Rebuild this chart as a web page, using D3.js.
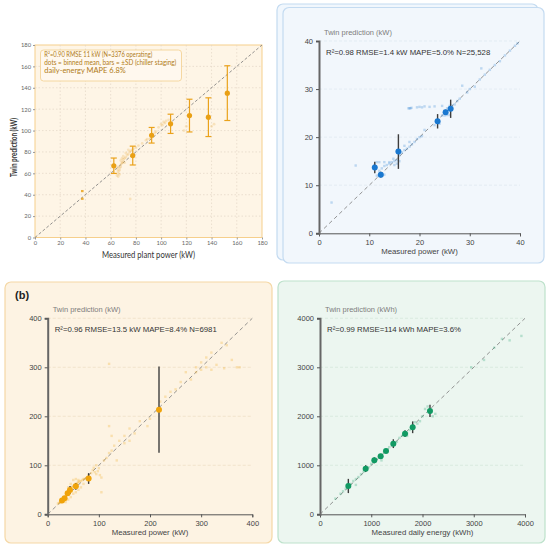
<!DOCTYPE html>
<html>
<head>
<meta charset="utf-8">
<script src="https://cdn.jsdelivr.net/npm/d3@7"></script>
<style>
  body { margin: 0; background: #fff; }
  svg { display: block; }
</style>
</head>
<body>
<svg width="550" height="548"></svg>
<script>
// ---- (a) top-left : plant power, binned means ± SD
const plantTicks = [0, 20, 40, 60, 80, 100, 120, 140, 160, 180];
const plantBinX = [62.5, 77.5, 92.5, 107.5, 122.5, 137.5, 152.5];
const plantBinY = [67.1, 76.6, 95.6, 106.3, 114.0, 112.5, 135.0];
const plantBinSD = [7.2, 8.8, 7.3, 9.0, 15.3, 18.1, 25.6];
const plantLowX = [37.5, 37.5];
const plantLowY = [43.4, 36.2];
const plantScatter = [[65,58],[66,60],[66,62],[67,63],[67,65],[68,66],[68,68],[69,70],[70,71],[70,73],[71,74],[72,75],[73,77],[74,78],[75,80],[76,81],[77,82],[78,83],[68,72],[70,76],[72,79],[74,82],[69,74],[66,57],[67,59],[80,84],[85,88],[88,91],[89,92],[91,92],[92,93],[95,98],[98,103],[100,106],[102,108],[104,109],[106,110],[103,107],[101,105],[96,99],[82,86],[120,104],[118,100],[140,104],[142,106],[75.5,36],[69,69.5],[71,70],[65,64],[66,66]];
const plantStats = ["R\u00b2=0.90   RMSE 11 kW (N=3376 operating)", "dots = binned mean, bars = \u00b1SD (chiller staging)", "daily-energy MAPE 6.8%"];

// ---- top-right : chiller power
const chillerTicks = [0, 10, 20, 30, 40];
const chillerBinX = [11.1, 12.3, 15.8, 23.6, 25.2, 26.2];
const chillerBinY = [13.7, 12.2, 17.0, 23.3, 25.2, 25.9];
const chillerBinSD = [1.2, 0.6, 3.6, 1.5, 0.5, 1.9];
const chillerScatter = [[17.8,26],[18,26],[18.2,26],[18.4,26.1],[19.5,26.2],[20,26.3],[20.5,26.2],[21,26.4],[22,26.3],[23,26.4],[24.5,26.5],[12,13],[12.5,13.5],[13,14],[13.5,14.2],[14,14.5],[14.5,14.8],[15,15],[15.5,15.2],[16,16.2],[16.5,16.8],[17,17.3],[17.5,17.6],[18,18],[18.5,18.5],[19,19],[19.5,19.6],[20,20],[20.5,20.2],[21,21.5],[16,15],[15,14.2],[14,14.8],[13,14.8],[12,14.8],[11.5,14.8],[11,14.2],[11.5,12],[12,11.9],[12.5,12],[13,12.2],[17,18.2],[18,19],[14.8,15.5],[15.5,14.5],[23,22.5],[24,22.8],[24.5,24.5],[25,24.5],[25.5,24.6],[26,24.6],[25,25.5],[25.5,26],[26,26.5],[26.5,26.6],[27,26.8],[27.5,27.5],[28,28],[28.5,30.7],[29.5,29.3],[30,30],[31,30.5],[32,32],[32.3,34.3],[33,33],[34,34],[35,35],[36,35.8],[37,37],[38,38],[39,39],[39.5,39.5],[2.5,6.4],[7.3,14.1]];
const chillerStats = "R\u00b2=0.98 RMSE=1.4 kW MAPE=5.0% N=25,528";

// ---- (b) bottom-left : building power
const powerTicks = [0, 100, 200, 300, 400];
const powerBinX = [28, 33, 39, 43.6, 55, 80, 217.6];
const powerBinY = [28, 33, 42.8, 49.6, 57, 73, 213.5];
const powerBinSD = [3, 3, 5, 8, 7, 11, 88];
const powerScatter = [[20,22],[22,23],[24,24],[25,26],[26,25],[28,27],[29,29],[30,30],[31,32],[32,31],[33,34],[34,35],[35,36],[36,38],[37,40],[38,41],[39,44],[40,46],[41,48],[42,50],[44,52],[45,54],[46,55],[48,56],[50,58],[52,60],[54,62],[56,62],[58,64],[60,66],[62,67],[65,68],[68,70],[70,72],[72,72],[75,74],[78,76],[80,80],[85,84],[88,90],[90,95],[92,86],[95,82],[98,88],[100,94],[102,80],[105,75],[95,100],[105,45],[60,70],[55,72],[50,70],[45,62],[40,55],[35,25],[40,30],[45,35],[50,42],[55,45],[60,50],[65,55],[70,62],[110,110],[115,115],[120,125],[125,130],[130,140],[140,150],[150,160],[160,175],[120,180],[125,160],[120,307],[135,110],[180,190],[200,195],[220,230],[230,240],[240,250],[250,255],[260,270],[270,290],[290,300],[300,310],[310,320],[320,330],[340,350],[350,345],[330,305],[320,295],[300,295],[310,300],[360,315],[370,300],[375,300],[345,298],[290,290],[280,275],[195,180],[170,165],[160,150],[150,145]];
const powerStats = "R\u00b2=0.96 RMSE=13.5 kW MAPE=8.4% N=6981";

// ---- bottom-right : daily energy
const energyTicks = [0, 1000, 2000, 3000, 4000];
const energyBinX = [553, 891, 1060, 1184, 1288, 1431, 1659, 1808, 2146];
const energyBinY = [578, 932, 1102, 1184, 1293, 1442, 1646, 1776, 2109];
const energyBinSD = [145, 70, 60, 30, 30, 90, 70, 120, 125];
const energyScatter = [[300,320],[400,420],[450,470],[500,520],[550,560],[600,620],[650,680],[700,720],[750,760],[800,820],[850,870],[900,920],[950,960],[1000,1030],[1050,1080],[1100,1130],[1150,1170],[1200,1220],[1250,1270],[1300,1320],[1350,1370],[1400,1420],[1450,1470],[1500,1480],[1550,1560],[1600,1600],[1650,1680],[1700,1650],[1750,1720],[1800,1750],[1850,1880],[1900,1850],[1950,1900],[2000,2000],[2050,2150],[2100,2200],[2200,2000],[2250,2050],[2950,3000],[3200,3150],[3400,3400],[3550,3580],[3700,3550],[3930,3640],[700,600],[1200,1100],[1700,1600]];
const energyStats = "R\u00b2=0.99 RMSE=114 kWh MAPE=3.6%";

var svg = d3.select("svg");

// ================= panel (a) =================
(function () {
  var x = d3.scaleLinear().domain([0, 180]).range([35, 262]);
  var y = d3.scaleLinear().domain([0, 180]).range([237.5, 45]);
  var font = "Lato, 'Open Sans', sans-serif";
  var g = svg.append("g");

  g.append("rect").attr("x", 35).attr("y", 45).attr("width", 227).attr("height", 192.5)
    .attr("fill", "#fef5e6").attr("stroke", "#f6cf8c").attr("stroke-width", 1);

  g.selectAll(".gx").data(plantTicks.slice(1, -1)).enter().append("line")
    .attr("x1", d => x(d)).attr("x2", d => x(d)).attr("y1", 45).attr("y2", 237.5)
    .attr("stroke", "#e2d6c6").attr("stroke-dasharray", "1.5,2").attr("stroke-width", 0.7);
  g.selectAll(".gy").data(plantTicks.slice(1, -1)).enter().append("line")
    .attr("y1", d => y(d)).attr("y2", d => y(d)).attr("x1", 35).attr("x2", 262)
    .attr("stroke", "#e2d6c6").attr("stroke-dasharray", "1.5,2").attr("stroke-width", 0.7);

  var xa = g.append("g").attr("transform", "translate(0,237.5)")
    .call(d3.axisBottom(x).tickValues(plantTicks).tickSize(2).tickPadding(1.5));
  var ya = g.append("g").attr("transform", "translate(35,0)")
    .call(d3.axisLeft(y).tickValues(plantTicks).tickSize(2).tickPadding(2));
  [xa, ya].forEach(a => {
    a.select(".domain").remove();
    a.selectAll("line").attr("stroke", "#999");
    a.selectAll("text").attr("fill", "#666").style("font-size", "5.8px").style("font-family", font);
  });

  g.append("line").attr("x1", x(0)).attr("y1", y(0)).attr("x2", x(180)).attr("y2", y(180))
    .attr("stroke", "#777").attr("stroke-dasharray", "3,2").attr("stroke-width", 0.8);

  g.selectAll(".sc").data(plantScatter).enter().append("circle")
    .attr("cx", d => x(d[0])).attr("cy", d => y(d[1])).attr("r", 1.4)
    .attr("fill", "#eab04a").attr("opacity", 0.28);

  g.selectAll(".low").data(plantLowX).enter().append("rect")
    .attr("x", d => x(d) - 1.3).attr("y", (d, i) => y(plantLowY[i]) - 1.1)
    .attr("width", 2.6).attr("height", 2.2).attr("fill", "#e9a21a").attr("opacity", 0.85);

  var bins = plantBinX.map((d, i) => ({ x: d, y: plantBinY[i], sd: plantBinSD[i] }));
  var eb = g.selectAll(".eb").data(bins).enter().append("g");
  eb.append("line").attr("x1", d => x(d.x)).attr("x2", d => x(d.x))
    .attr("y1", d => y(d.y + d.sd)).attr("y2", d => y(d.y - d.sd))
    .attr("stroke", "#eaa21c").attr("stroke-width", 1.2);
  [1, -1].forEach(s => {
    eb.append("line").attr("x1", d => x(d.x) - 3).attr("x2", d => x(d.x) + 3)
      .attr("y1", d => y(d.y + s * d.sd)).attr("y2", d => y(d.y + s * d.sd))
      .attr("stroke", "#eaa21c").attr("stroke-width", 1.2);
  });
  eb.append("circle").attr("cx", d => x(d.x)).attr("cy", d => y(d.y)).attr("r", 2.6)
    .attr("fill", "#e9a015");

  // stats box: narrow face in the original, so squeeze each line to its width
  var lineLen = [108, 132, 81.5];
  g.append("rect").attr("x", 40.5).attr("y", 50).attr("width", 141).attr("height", 31).attr("rx", 3)
    .attr("fill", "#fff8ee").attr("stroke", "#f2cf8e").attr("stroke-width", 0.8);
  g.selectAll(".st").data(plantStats).enter().append("text")
    .attr("x", 44.3).attr("y", (d, i) => 57 + i * 8.2)
    .attr("textLength", (d, i) => lineLen[i]).attr("lengthAdjust", "spacingAndGlyphs")
    .attr("fill", "#b07b16").style("font-size", "7px").style("font-family", font)
    .text(d => d);

  g.append("text").attr("x", 148.5).attr("y", 257.5).attr("text-anchor", "middle")
    .attr("textLength", 93).attr("lengthAdjust", "spacingAndGlyphs")
    .attr("fill", "#333").style("font-size", "8.6px").style("font-family", font)
    .text("Measured plant power (kW)");
  g.append("text").attr("transform", "translate(16.5,147.5) rotate(-90)").attr("text-anchor", "middle")
    .attr("textLength", 59).attr("lengthAdjust", "spacingAndGlyphs")
    .attr("fill", "#333").attr("font-weight", 700).style("font-size", "8.6px").style("font-family", font)
    .text("Twin prediction (kW)");
})();

// ================= card panels =================
function cardPanel(o) {
  var font = "'Liberation Sans', Arial, sans-serif";
  var g = svg.append("g");
  var x = d3.scaleLinear().domain(o.domain).range([o.px0, o.px1]);
  var y = d3.scaleLinear().domain(o.domain).range([o.py0, o.py1]);

  g.selectAll(".grid").data(o.ticks.slice(1)).enter().append("line")
    .attr("x1", o.px0).attr("x2", o.px1).attr("y1", d => y(d)).attr("y2", d => y(d))
    .attr("stroke", o.grid).attr("stroke-dasharray", "3,2").attr("stroke-width", 0.7);

  var xa = g.append("g").attr("transform", "translate(0," + o.py0 + ")")
    .call(d3.axisBottom(x).tickValues(o.ticks).tickSize(3).tickPadding(3).tickFormat(d3.format("d")));
  xa.select(".domain").attr("stroke", "#555").attr("stroke-width", 1);
  var ya = g.append("g").attr("transform", "translate(" + o.px0 + ",0)")
    .call(d3.axisLeft(y).tickValues(o.ticks).tickSize(3).tickPadding(3).tickFormat(d3.format("d")));
  ya.select(".domain").attr("stroke", "#666").attr("stroke-width", 2);
  [xa, ya].forEach(a => {
    a.selectAll(".tick line").attr("stroke", "#555");
    a.selectAll("text").attr("fill", "#444").style("font-size", "7.5px").style("font-family", font);
  });

  g.append("line").attr("x1", x(o.domain[0])).attr("y1", y(o.domain[0]))
    .attr("x2", x(o.domain[1])).attr("y2", y(o.domain[1]))
    .attr("stroke", "#7a7a7a").attr("stroke-dasharray", "4,3").attr("stroke-width", 0.8);

  g.selectAll(".sc").data(o.scatter).enter().append("rect")
    .attr("x", d => x(d[0]) - 1.2).attr("y", d => y(d[1]) - 1.2).attr("width", 2.4).attr("height", 2.4)
    .attr("fill", o.color).attr("opacity", 0.25);

  var bins = o.binX.map((d, i) => ({ x: d, y: o.binY[i], sd: o.binSD[i] }));
  g.selectAll(".eb").data(bins).enter().append("line")
    .attr("x1", d => x(d.x)).attr("x2", d => x(d.x))
    .attr("y1", d => y(d.y + d.sd)).attr("y2", d => y(d.y - d.sd))
    .attr("stroke", "#3d3d3d").attr("stroke-width", 1.4);
  g.selectAll(".bm").data(bins).enter().append("circle")
    .attr("cx", d => x(d.x)).attr("cy", d => y(d.y)).attr("r", 3)
    .attr("fill", o.color);

  g.append("text").attr("x", o.px0 + 5).attr("y", o.py1 - 6)
    .attr("fill", "#7d7d7d").style("font-size", "7.5px").style("font-family", font)
    .text(o.ytitle);
  g.append("text").attr("x", o.px0 + 7).attr("y", o.py1 + 13.5)
    .attr("fill", "#333").style("font-size", "7.8px").style("font-family", font)
    .text(o.stats);
  g.append("text").attr("x", (o.px0 + o.px1) / 2).attr("y", o.py0 + 21)
    .attr("text-anchor", "middle")
    .attr("fill", "#444").style("font-size", "7.8px").style("font-family", font)
    .text(o.xtitle);
}

// top-right cards (stacked)
svg.append("rect").attr("x", 277).attr("y", 4).attr("width", 261).attr("height", 256).attr("rx", 6)
  .attr("fill", "#f1f7fd").attr("stroke", "#c4dbf1").attr("stroke-width", 1.2);
svg.append("rect").attr("x", 283).attr("y", 7.5).attr("width", 261).attr("height", 255.5).attr("rx", 6)
  .attr("fill", "#f2f7fc").attr("stroke", "#c4dbf1").attr("stroke-width", 1.2);
cardPanel({ domain: [0, 40], ticks: chillerTicks, px0: 319, px1: 520, py0: 233.3, py1: 41,
  scatter: chillerScatter, binX: chillerBinX, binY: chillerBinY, binSD: chillerBinSD,
  color: "#1a78d0", grid: "#dde6ef", ytitle: "Twin prediction (kW)",
  stats: chillerStats, xtitle: "Measured power (kW)" });

// bottom-left card
svg.append("rect").attr("x", 5).attr("y", 282).attr("width", 267).attr("height", 261).attr("rx", 6)
  .attr("fill", "#fdf3e3").attr("stroke", "#f5d8a6").attr("stroke-width", 1.2);
svg.append("text").attr("x", 15).attr("y", 298.5).attr("font-weight", 700)
  .style("font-size", "11px").style("font-family", "'Liberation Sans', Arial, sans-serif")
  .attr("fill", "#222").text("(b)");
cardPanel({ domain: [0, 400], ticks: powerTicks, px0: 47.7, px1: 252.3, py0: 514.3, py1: 318.3,
  scatter: powerScatter, binX: powerBinX, binY: powerBinY, binSD: powerBinSD,
  color: "#f0a30a", grid: "#ecdcc2", ytitle: "Twin prediction (kW)",
  stats: powerStats, xtitle: "Measured power (kW)" });

// bottom-right card
svg.append("rect").attr("x", 278).attr("y", 281).attr("width", 267).attr("height", 262).attr("rx", 6)
  .attr("fill", "#ecf6f0").attr("stroke", "#bde2cb").attr("stroke-width", 1.2);
cardPanel({ domain: [0, 4000], ticks: energyTicks, px0: 320, px1: 525, py0: 514.3, py1: 318.3,
  scatter: energyScatter, binX: energyBinX, binY: energyBinY, binSD: energyBinSD,
  color: "#119a63", grid: "#d3e6da", ytitle: "Twin prediction (kWh)",
  stats: energyStats, xtitle: "Measured daily energy (kWh)" });
</script>
</body>
</html>
